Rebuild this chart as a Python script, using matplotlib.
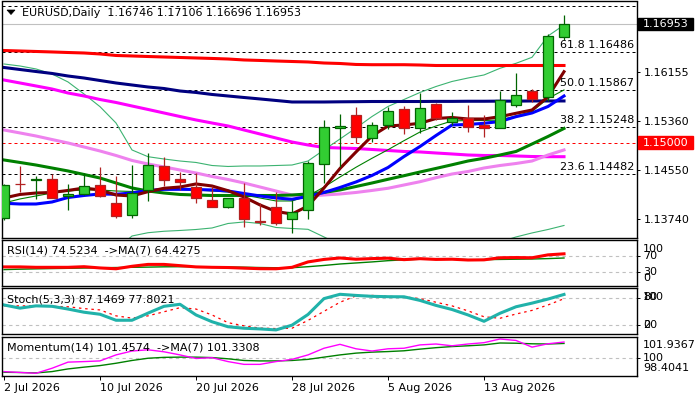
import numpy as np
import matplotlib
matplotlib.use("Agg")
import matplotlib.pyplot as plt
import matplotlib.transforms as mtransforms
from matplotlib.patches import Polygon, Rectangle

# ---------------- data ----------------
opens = [1.13752, 1.14320, 1.14390, 1.14395, 1.14115, 1.14148, 1.14301, 1.14004, 1.13802, 1.14223,
         1.14614, 1.14400, 1.14268, 1.14049, 1.13943, 1.14087, 1.13700, 1.13934, 1.13736, 1.13884,
         1.14642, 1.15235, 1.15454, 1.15070, 1.15284, 1.15553, 1.15235, 1.15635, 1.15338, 1.15399,
         1.15289, 1.15245, 1.15613, 1.15854, 1.15745, 1.16746]
highs = [1.14320, 1.14614, 1.14449, 1.14477, 1.14312, 1.14494, 1.14602, 1.14449, 1.14630, 1.14823,
         1.14762, 1.14510, 1.14494, 1.14289, 1.14087, 1.14339, 1.13999, 1.14181, 1.14054, 1.14701,
         1.15371, 1.15470, 1.15590, 1.15343, 1.15590, 1.15607, 1.15811, 1.15647, 1.15503, 1.15618,
         1.15454, 1.15854, 1.16150, 1.15887, 1.16788, 1.17106]
lows = [1.13730, 1.14186, 1.14065, 1.14082, 1.13889, 1.14136, 1.14108, 1.13762, 1.13762, 1.14042,
        1.14284, 1.14223, 1.14009, 1.13935, 1.13927, 1.13614, 1.13637, 1.13637, 1.13515, 1.13736,
        1.14329, 1.14602, 1.14988, 1.15014, 1.15218, 1.15136, 1.15152, 1.15371, 1.15289, 1.15179,
        1.15096, 1.15235, 1.15590, 1.15673, 1.15689, 1.16696]
closes = [1.14296, 1.14310, 1.14398, 1.14092, 1.14158, 1.14279, 1.14125, 1.13795, 1.14164, 1.14625,
          1.14388, 1.14355, 1.14092, 1.13943, 1.14082, 1.13736, 1.13692, 1.13670, 1.13851, 1.14658,
          1.15251, 1.15268, 1.15086, 1.15284, 1.15520, 1.15235, 1.15564, 1.15399, 1.15409, 1.15251,
          1.15245, 1.15701, 1.15778, 1.15722, 1.16750, 1.16953]

ma_red = [1.16516, 1.16508, 1.16500, 1.16492, 1.16483, 1.16475, 1.16459, 1.16434, 1.16426, 1.16417,
          1.16409, 1.16401, 1.16393, 1.16385, 1.16376, 1.16360, 1.16352, 1.16343, 1.16335, 1.16327,
          1.16310, 1.16302, 1.16286, 1.16282, 1.16282, 1.16282, 1.16277, 1.16269, 1.16269, 1.16269,
          1.16269, 1.16269, 1.16269, 1.16269, 1.16269, 1.16269]
ma_navy = [1.16236, 1.16203, 1.16170, 1.16138, 1.16096, 1.16063, 1.16022, 1.15981, 1.15948, 1.15915,
           1.15890, 1.15849, 1.15825, 1.15792, 1.15767, 1.15742, 1.15718, 1.15693, 1.15668, 1.15668,
           1.15668, 1.15671, 1.15673, 1.15676, 1.15676, 1.15676, 1.15676, 1.15678, 1.15678, 1.15680,
           1.15680, 1.15682, 1.15682, 1.15685, 1.15685, 1.15685]
ma_magenta = [1.16030, 1.15981, 1.15932, 1.15882, 1.15816, 1.15767, 1.15709, 1.15660, 1.15602, 1.15545,
              1.15487, 1.15429, 1.15372, 1.15322, 1.15273, 1.15207, 1.15141, 1.15075, 1.15009, 1.14960,
              1.14919, 1.14910, 1.14902, 1.14886, 1.14869, 1.14853, 1.14845, 1.14828, 1.14812, 1.14795,
              1.14787, 1.14787, 1.14779, 1.14770, 1.14767, 1.14767]
ma_violet = [1.15207, 1.15158, 1.15108, 1.15050, 1.14993, 1.14927, 1.14861, 1.14787, 1.14705, 1.14647,
             1.14598, 1.14548, 1.14499, 1.14441, 1.14392, 1.14334, 1.14268, 1.14202, 1.14136, 1.14120,
             1.14136, 1.14153, 1.14178, 1.14211, 1.14247, 1.14301, 1.14355, 1.14421, 1.14482, 1.14523,
             1.14581, 1.14622, 1.14655, 1.14696, 1.14795, 1.14878]
ma_green = [1.14713, 1.14672, 1.14630, 1.14581, 1.14532, 1.14474, 1.14416, 1.14334, 1.14252, 1.14202,
            1.14169, 1.14145, 1.14136, 1.14128, 1.14128, 1.14128, 1.14128, 1.14128, 1.14136, 1.14153,
            1.14178, 1.14219, 1.14276, 1.14334, 1.14395, 1.14454, 1.14515, 1.14574, 1.14634, 1.14696,
            1.14741, 1.14795, 1.14853, 1.14976, 1.15100, 1.15232]
ma_blue = [1.14000, 1.13988, 1.13988, 1.14021, 1.14095, 1.14128, 1.14153, 1.14148, 1.14169, 1.14211,
           1.14230, 1.14230, 1.14227, 1.14219, 1.14202, 1.14161, 1.14120, 1.14087, 1.14066, 1.14112,
           1.14178, 1.14260, 1.14351, 1.14458, 1.14589, 1.14770, 1.14935, 1.15116, 1.15289, 1.15298,
           1.15317, 1.15347, 1.15426, 1.15487, 1.15594, 1.15767]
ma_maroon = [1.14087, 1.14145, 1.14169, 1.14178, 1.14211, 1.14252, 1.14219, 1.14136, 1.14120, 1.14191,
             1.14247, 1.14268, 1.14318, 1.14285, 1.14207, 1.14103, 1.13972, 1.13865, 1.13823, 1.13955,
             1.14252, 1.14573, 1.14845, 1.15108, 1.15273, 1.15289, 1.15317, 1.15396, 1.15413, 1.15388,
             1.15388, 1.15426, 1.15482, 1.15536, 1.15755, 1.16167]
ma_thin = [1.14005, 1.14071, 1.14120, 1.14169, 1.14202, 1.14219, 1.14219, 1.14202, 1.14194, 1.14202,
           1.14219, 1.14227, 1.14219, 1.14202, 1.14186, 1.14136, 1.14087, 1.14038, 1.14038, 1.14120,
           1.14268, 1.14433, 1.14593, 1.14741, 1.14882, 1.15031, 1.15174, 1.15273, 1.15355, 1.15363,
           1.15363, 1.15372, 1.15438, 1.15512, 1.15726, 1.15866]
bb_upper = [1.16294, 1.16261, 1.16212, 1.16129, 1.15998, 1.15800, 1.15591, 1.15322, 1.14878, 1.14767,
            1.14729, 1.14696, 1.14672, 1.14622, 1.14606, 1.14614, 1.14614, 1.14622, 1.14630, 1.14696,
            1.14878, 1.15059, 1.15240, 1.15429, 1.15594, 1.15709, 1.15825, 1.15923, 1.16006, 1.16063,
            1.16113, 1.16223, 1.16305, 1.16404, 1.16755, 1.16936]
nan = float("nan")
bb_lower = [nan, nan, nan, nan, nan, nan, nan, 1.13231, 1.13461, 1.13515,
            1.13539, 1.13552, 1.13568, 1.13593, 1.13667, 1.13692, 1.13667, 1.13601, 1.13585, 1.13571,
            1.13445, 1.13313, nan, nan, nan, nan, nan, nan, nan, nan,
            nan, 1.13362, 1.13445, 1.13511, 1.13568, 1.13634]

rsi = [43, 43, 42, 42, 42, 43.5, 40.5, 38.5, 44.5, 49,
       49, 46, 43, 42, 41.5, 40, 38.7, 38.5, 42, 55,
       61, 64.5, 61.5, 63, 64, 60.5, 62.8, 61, 61.5, 59.6,
       60, 65, 65.5, 65, 72, 74.5234]
rsi_ma = [36.5, 37.5, 38.3, 39, 39.6, 40.3, 41, 41.5, 42, 42.5,
          43.2, 43.5, 43.5, 43.3, 42.8, 42.3, 41.5, 41, 41, 43.5,
          46.5, 50, 52.5, 55, 58, 60, 61.5, 62, 61.5, 60.5,
          60.5, 61, 61.5, 62, 63, 64.4275]
stoch_k = [64, 57, 62, 61, 55, 48, 43.5, 30.3, 30.3, 46,
           61, 65.5, 42, 27, 16, 12.7, 11.2, 9, 19.5, 43,
           78, 87.5, 85, 83, 82.2, 82, 74, 63, 54, 42,
           28, 45.7, 60, 68, 77, 87.1469]
stoch_d = [62, 62, 62, 61, 60, 56, 53, 40, 35, 40,
           49, 58, 55, 42, 25, 18, 13, 12, 12.7, 30,
           50, 70, 84, 85, 83, 82, 78, 70, 62, 51,
           38, 34.7, 44, 52, 64, 77.8021]
mom = [98.8, 98.72, 98.65, 99.1, 99.65, 99.7, 99.76, 100.3, 100.65, 100.76,
       100.58, 100.3, 99.98, 100.05, 99.7, 99.45, 99.45, 99.7, 99.9, 100.3,
       100.9, 101.25, 100.85, 100.65, 100.85, 100.9, 101.2, 101.28, 101.12, 101.28,
       101.4, 101.73, 101.6, 101.0, 101.3, 101.4574]
mom_ma = [98.74, 98.72, 98.68, 98.8, 99.04, 99.2, 99.34, 99.55, 99.8, 100.0,
          100.08, 100.1, 100.1, 100.06, 99.95, 99.8, 99.76, 99.76, 99.8, 99.9,
          100.1, 100.3, 100.46, 100.55, 100.6, 100.67, 100.82, 100.95, 101.05, 101.12,
          101.2, 101.37, 101.35, 101.3, 101.28, 101.3308]

fib_names = ["76.4", "61.8", "50.0", "38.2", "23.6"]
fib_prices = [1.17253, 1.16486, 1.15867, 1.15248, 1.14482]
price_ticks = [1.16155, 1.15360, 1.14550, 1.13740]
last_price = 1.16953
round_level = 1.15000
mom_range = [98.4041, 101.9367]
date_labels = ["2 Jul 2026", "10 Jul 2026", "20 Jul 2026", "28 Jul 2026", "5 Aug 2026", "13 Aug 2026"]
date_idx = [0, 6, 12, 18, 24, 30]

# ---------------- figure ----------------
W, H = 700, 400
plt.rcParams["font.family"] = ["DejaVu Sans"]
fig = plt.figure(figsize=(7, 4), dpi=100)
fig.patch.set_facecolor("white")

n = len(closes)
x = np.arange(n)
XMIN = -0.125
XMAX = XMIN + 634.5 / 16.0


def panel(top, bottom):
    ax = fig.add_axes([2 / W, 1 - bottom / H, 634.5 / W, (bottom - top) / H])
    for s in ax.spines.values():
        s.set_linewidth(1.0)
        s.set_color("black")
    ax.set_xlim(XMIN, XMAX)
    ax.set_xticks([])
    ax.yaxis.tick_right()
    ax.tick_params(axis="y", direction="out", length=2.5, width=0.7, pad=3, labelsize=8)
    ax.set_facecolor("white")
    return ax


ax = panel(1.5, 238.3)
ax.set_ylim(1.13423, 1.17323)
ax.set_yticks(price_ticks)
ax.set_yticklabels([f"{p:.5f}" for p in price_ticks])

dash = (0, (3, 3))
# price line & levels
ax.axhline(last_price, color="#C0C0C0", lw=0.8, zorder=1)
for name, p in zip(fib_names, fib_prices):
    ax.axhline(p, color="black", lw=0.72, ls=dash, zorder=1)
    ax.annotate(f"{name} {p:.5f}", xy=(1, p), xycoords=("axes fraction", "data"),
                xytext=(-1.5, 1.5), textcoords="offset points", ha="right", va="bottom",
                fontsize=8, color="black", annotation_clip=False, clip_on=True, zorder=6)
ax.axhline(round_level, color="red", lw=0.72, ls=dash, zorder=1)

# moving averages / bands
ax.plot(x, bb_upper, color="#3CB371", lw=0.8, zorder=2)
ax.plot(x, bb_lower, color="#3CB371", lw=0.8, zorder=2)
ax.plot(x, ma_red, color="#FF0000", lw=2.2, zorder=2)
ax.plot(x, ma_navy, color="#000080", lw=2.2, zorder=2)
ax.plot(x, ma_magenta, color="#FF00FF", lw=2.2, zorder=2)
ax.plot(x, ma_violet, color="#EE82EE", lw=2.2, zorder=2)
ax.plot(x, ma_green, color="#008000", lw=2.2, zorder=2)
ax.plot(x, ma_thin, color="#008000", lw=0.8, zorder=2)
ax.plot(x, ma_blue, color="#0000FF", lw=2.2, zorder=2)
ax.plot(x, ma_maroon, color="#800000", lw=2.2, zorder=2)

# candles
o = np.array(opens); c = np.array(closes); h = np.array(highs); l = np.array(lows)
bull = c >= o
wick_col = np.where(bull, "#006400", "#B22222")
ax.vlines(x, l, h, colors=wick_col, lw=0.9, zorder=4)
ax.bar(x[bull], (c - o)[bull], bottom=o[bull], width=0.6, color="#32CD32",
       edgecolor="#006400", linewidth=0.9, zorder=5)
ax.bar(x[~bull], (o - c)[~bull], bottom=c[~bull], width=0.6, color="#FF0000",
       edgecolor="#B22222", linewidth=0.9, zorder=5)

# right side price boxes
bt = mtransforms.blended_transform_factory(fig.transFigure, ax.transData)
for p, fc in ((last_price, "black"), (round_level, "#FF0000")):
    ax.add_patch(Rectangle((638 / W, p - 0.00105), 55 / W, 0.0021, transform=bt,
                           facecolor=fc, edgecolor=fc, clip_on=False, zorder=7))
    ax.text(643 / W, p, f"{p:.5f}", transform=bt, color="white", fontsize=8,
            va="center", ha="left", clip_on=False, zorder=8)

# header
fig.add_artist(Polygon([(7 / W, 1 - 10 / H), (15 / W, 1 - 10 / H), (11 / W, 1 - 14.5 / H)],
                       closed=True, transform=fig.transFigure, facecolor="black",
                       edgecolor="black", lw=0.5))
fig.text(21.5 / W, 1 - 12.7 / H,
         f"EURUSD,Daily  {opens[-1]:.5f} {highs[-1]:.5f} {lows[-1]:.5f} {closes[-1]:.5f}",
         fontsize=8, va="center", ha="left", color="black")

# ---------------- RSI ----------------
ax1 = panel(240, 286)
ax1.set_ylim(-3, 107.8)
ax1.set_yticks([70, 30]); ax1.set_yticklabels(["", ""])
ax1.axhline(70, color="#C0C0C0", lw=0.8, ls=dash)
ax1.axhline(30, color="#C0C0C0", lw=0.8, ls=dash)
ax1.plot(x, rsi_ma, color="#008000", lw=1.0)
ax1.plot(x, rsi, color="#FF0000", lw=2.2)
fig.text(7 / W, 1 - 250.7 / H, f"RSI(14) {rsi[-1]:.4f}  ->MA(7) {rsi_ma[-1]:.4f}", fontsize=8, va="center")
for lab, yy in (("100", 249), ("70", 256), ("30", 272), ("0", 278)):
    fig.text(643 / W, 1 - yy / H, lab, fontsize=8, va="center", ha="left")

# ---------------- Stochastic ----------------
ax2 = panel(288.3, 334)
ax2.set_ylim(0, 100.7)
ax2.set_yticks([80, 20]); ax2.set_yticklabels(["", ""])
ax2.axhline(80, color="#C0C0C0", lw=0.8, ls=dash)
ax2.axhline(20, color="#C0C0C0", lw=0.8, ls=dash)
ax2.plot(x, stoch_d, color="#FF0000", lw=0.9, ls=(0, (2, 3)))
ax2.plot(x, stoch_k, color="#20B2AA", lw=2.2)
fig.text(7 / W, 1 - 299 / H, f"Stoch(5,3,3) {stoch_k[-1]:.4f} {stoch_d[-1]:.4f}", fontsize=8, va="center")
for lab, yy in (("100", 297.5), ("80", 297.5), ("20", 325), ("0", 325.5)):
    fig.text(643 / W, 1 - yy / H, lab, fontsize=8, va="center", ha="left")

# ---------------- Momentum ----------------
ax3 = panel(336.7, 376)
ax3.set_ylim(mom_range[0], mom_range[1])
ax3.set_yticks([100]); ax3.set_yticklabels([""])
ax3.axhline(100, color="#C0C0C0", lw=0.8, ls=dash)
ax3.plot(x, mom_ma, color="#008000", lw=1.0)
ax3.plot(x, mom, color="#FF00FF", lw=1.0)
fig.text(7 / W, 1 - 347 / H, f"Momentum(14) {mom[-1]:.4f}  ->MA(7) {mom_ma[-1]:.4f}", fontsize=8, va="center")
for lab, yy in ((f"{mom_range[1]:.4f}", 345), ("100", 357.7), (f"{mom_range[0]:.4f}", 368.3)):
    fig.text(643 / W, 1 - yy / H, lab, fontsize=8, va="center", ha="left")

ax3.set_xticks(date_idx)
ax3.set_xticklabels(date_labels)
ax3.tick_params(axis="x", direction="out", length=3, width=0.7, pad=2, labelsize=8)
for t in ax3.get_xticklabels():
    t.set_ha("left")

fig.savefig("out.png", dpi=100, facecolor="white")
